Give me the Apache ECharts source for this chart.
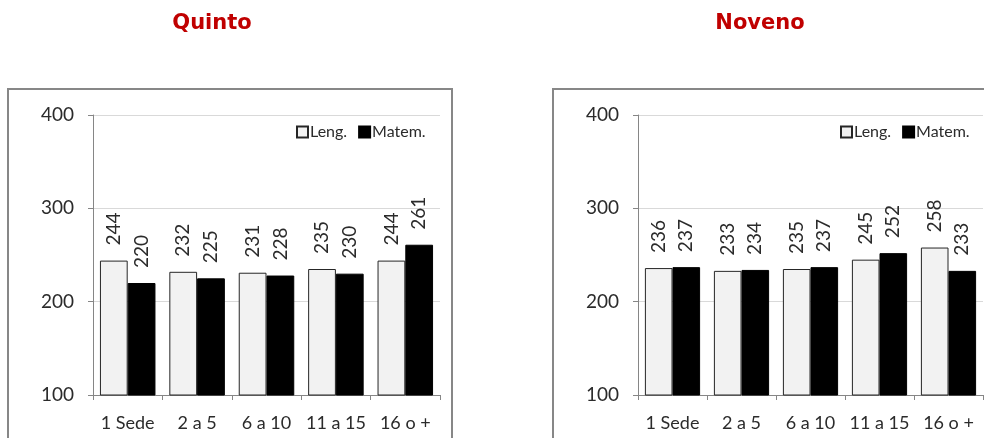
<!DOCTYPE html>
<html><head><meta charset="utf-8">
<script src="https://cdn.jsdelivr.net/npm/echarts@6/dist/echarts.min.js"></script>
<style>html,body{margin:0;padding:0;background:#fff}#c{width:984px;height:438px}</style>
</head><body><div id="c"></div>
<script>
const categories = ['1 Sede', '2 a 5', '6 a 10', '11 a 15', '16 o +'];
const quintoLeng = [244, 232, 231, 235, 244];
const quintoMatem = [220, 225, 228, 230, 261];
const novenoLeng = [236, 233, 235, 245, 258];
const novenoMatem = [237, 234, 237, 252, 233];
const yTicks = {min: 100, max: 400, interval: 100};
const panelTitles = ['Quinto', 'Noveno'];

const FONT = 'Lato, "Open Sans", sans-serif';
const txt = '#2b2b2b';
const chart = echarts.init(document.getElementById('c'));

function xAxis(i) {
  return {
    type: 'category', gridIndex: i, data: categories,
    axisLine: {lineStyle: {color: '#868686', width: 1}},
    axisTick: {show: true, length: 5, lineStyle: {color: '#868686'}},
    axisLabel: {color: txt, fontSize: 18, fontFamily: FONT, margin: 19, interval: 0}
  };
}
function yAxis(i) {
  return {
    type: 'value', gridIndex: i, min: yTicks.min, max: yTicks.max, interval: yTicks.interval,
    axisLine: {show: true, lineStyle: {color: '#868686', width: 1}},
    axisTick: {show: true, length: 5, lineStyle: {color: '#868686'}},
    axisLabel: {color: txt, fontSize: 19, fontFamily: FONT, margin: 19},
    splitLine: {show: true, lineStyle: {color: '#D9D9D9', width: 1}}
  };
}
const label = {
  show: true, position: 'top', rotate: 90, align: 'left', verticalAlign: 'middle',
  distance: 15, color: txt, fontSize: 19, fontFamily: FONT
};
function series(name, data, i, isLeng) {
  return {
    name, type: 'bar', xAxisIndex: i, yAxisIndex: i, data,
    barGap: '0%', barCategoryGap: '20%',
    itemStyle: isLeng ? {color: '#F2F2F2', borderColor: '#262626', borderWidth: 1}
                      : {color: '#000000', borderColor: '#000000', borderWidth: 1},
    label
  };
}
function legend(left) {
  return {
    left, top: 119, itemWidth: 11, itemHeight: 11, itemGap: 11, icon: 'rect',
    data: ['Leng.', 'Matem.'],
    textStyle: {color: txt, fontSize: 16, fontFamily: FONT, padding: [0, 0, 0, -3]}
  };
}

chart.setOption({
  animation: false,
  title: [
    {text: panelTitles[0], left: 207, top: 8, textAlign: 'center',
     textStyle: {color: '#C00000', fontSize: 21, fontWeight: 'bold', fontFamily: '"DejaVu Sans", sans-serif'}},
    {text: panelTitles[1], left: 755, top: 8, textAlign: 'center',
     textStyle: {color: '#C00000', fontSize: 21, fontWeight: 'bold', fontFamily: '"DejaVu Sans", sans-serif'}}
  ],
  legend: [legend(291), legend(835)],
  grid: [
    {left: 93, right: 544, top: 115, bottom: 43},
    {left: 638, right: 1, top: 115, bottom: 43}
  ],
  xAxis: [xAxis(0), xAxis(1)],
  yAxis: [yAxis(0), yAxis(1)],
  series: [
    series('Leng.', quintoLeng, 0, true),
    series('Matem.', quintoMatem, 0, false),
    series('Leng.', novenoLeng, 1, true),
    series('Matem.', novenoMatem, 1, false)
  ],
  graphic: [
    {type: 'rect', shape: {x: 8, y: 89, width: 444, height: 370}, style: {fill: 'none', stroke: '#878787', lineWidth: 2}, silent: true},
    {type: 'rect', shape: {x: 553, y: 89, width: 460, height: 370}, style: {fill: 'none', stroke: '#878787', lineWidth: 2}, silent: true}
  ]
});
</script></body></html>
